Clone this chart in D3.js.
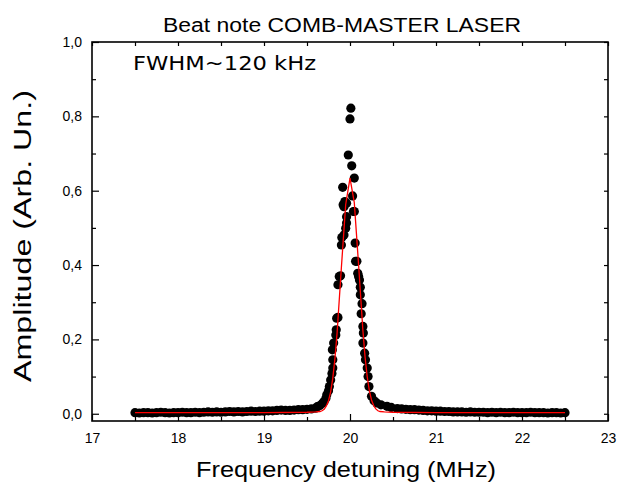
<!DOCTYPE html>
<html>
<head>
<meta charset="utf-8">
<script src="https://cdn.jsdelivr.net/npm/d3@7"></script>
<style>
  html, body { margin: 0; padding: 0; background: #fff; }
  svg { display: block; }
</style>
</head>
<body>
<svg id="chart" width="617" height="485"></svg>
<script>
// ---------------- data ----------------
const titleText = "Beat note COMB-MASTER LASER";
const xLabel = "Frequency detuning (MHz)";
const yLabel = "Amplitude (Arb. Un.)";
const annotation = "FWHM~120 kHz";

const xTicks = [17, 18, 19, 20, 21, 22, 23];
const xMinorTicks = [17.5, 18.5, 19.5, 20.5, 21.5, 22.5];
const yTicks = [0.0, 0.2, 0.4, 0.6, 0.8, 1.0];
const yMinorTicks = [0.1, 0.3, 0.5, 0.7, 0.9];

// measured points (MHz, amplitude)
const freqMHz = [
  17.50, 17.55, 17.60, 17.65, 17.70, 17.75, 17.80, 17.85, 17.90, 17.95,
  18.00, 18.05, 18.10, 18.15, 18.20, 18.25, 18.30, 18.35, 18.40, 18.45,
  18.50, 18.55, 18.60, 18.65, 18.70, 18.75, 18.80, 18.85, 18.90, 18.95,
  19.00, 19.05, 19.10, 19.15, 19.20, 19.25, 19.30, 19.35, 19.40, 19.45,
  19.50, 19.55, 19.60,
  19.62, 19.65, 19.68, 19.70, 19.72, 19.73, 19.75, 19.76, 19.775, 19.79,
  19.80, 19.80, 19.795, 19.81, 19.835, 19.84, 19.845, 19.86, 19.86, 19.875,
  19.89, 19.90, 19.905, 19.93, 19.95, 19.96, 19.96, 19.93, 19.92, 19.96,
  19.915, 19.94, 19.98, 20.00, 20.01, 20.02, 20.03, 20.05, 20.04, 20.05,
  20.06, 20.065, 20.08, 20.09, 20.10, 20.11, 20.12, 20.12, 20.14, 20.13,
  20.15, 20.155, 20.15, 20.17, 20.18, 20.20, 20.21, 20.22, 20.25, 20.28,
  20.31, 20.36, 20.43, 20.48,
  20.55, 20.60, 20.65, 20.70, 20.75, 20.80, 20.85, 20.90, 20.95, 21.00,
  21.05, 21.10, 21.15, 21.20, 21.25, 21.30, 21.35, 21.40, 21.45, 21.50,
  21.55, 21.60, 21.65, 21.70, 21.75, 21.80, 21.85, 21.90, 21.95, 22.00,
  22.05, 22.10, 22.15, 22.20, 22.25, 22.30, 22.35, 22.40, 22.45, 22.50
];
const amplitude = [
  0.003, 0.002, 0.003, 0.003, 0.002, 0.003, 0.004, 0.003, 0.002, 0.003,
  0.003, 0.004, 0.003, 0.003, 0.004, 0.003, 0.004, 0.005, 0.004, 0.005,
  0.004, 0.005, 0.006, 0.005, 0.006, 0.005, 0.006, 0.007, 0.006, 0.007,
  0.007, 0.008, 0.008, 0.009, 0.010, 0.009, 0.009, 0.010, 0.011, 0.011,
  0.012, 0.013, 0.015,
  0.019, 0.022, 0.028, 0.033, 0.042, 0.051, 0.062, 0.073, 0.091, 0.108,
  0.123, 0.145, 0.172, 0.190, 0.212, 0.226, 0.257, 0.259, 0.347, 0.369,
  0.371, 0.454, 0.474, 0.481, 0.499, 0.513, 0.530, 0.557, 0.562, 0.566,
  0.609, 0.571, 0.696, 0.793, 0.822, 0.667, 0.586, 0.634, 0.544, 0.544,
  0.459, 0.410, 0.410, 0.378, 0.369, 0.360, 0.340, 0.320, 0.296, 0.269,
  0.235, 0.217, 0.190, 0.163, 0.145, 0.123, 0.100, 0.073, 0.047, 0.035,
  0.029, 0.024, 0.020, 0.017,
  0.014, 0.013, 0.012, 0.011, 0.011, 0.010, 0.009, 0.008, 0.008, 0.007,
  0.007, 0.006, 0.006, 0.005, 0.005, 0.005, 0.004, 0.005, 0.004, 0.004,
  0.004, 0.003, 0.004, 0.003, 0.004, 0.003, 0.003, 0.004, 0.003, 0.003,
  0.003, 0.004, 0.003, 0.003, 0.003, 0.002, 0.003, 0.003, 0.002, 0.003
];

// fitted curve
const fitFreq = [17.50, 19.00, 19.50, 19.60, 19.65, 19.675, 19.70, 19.725, 19.75, 19.775,
                 19.80, 19.825, 19.85, 19.90, 19.95, 20.00, 20.05, 20.10, 20.15, 20.175,
                 20.20, 20.225, 20.25, 20.275, 20.30, 20.325, 20.35, 20.40, 20.50, 21.00, 22.50];
const fitAmp  = [0.003, 0.003, 0.004, 0.005, 0.006, 0.008, 0.012, 0.021, 0.035, 0.059,
                 0.096, 0.149, 0.218, 0.394, 0.563, 0.634, 0.568, 0.400, 0.224, 0.153,
                 0.100, 0.062, 0.037, 0.022, 0.013, 0.008, 0.006, 0.005, 0.004, 0.003, 0.003];

// ---------------- layout ----------------
const svg = d3.select("#chart");
const plot = { left: 92, right: 608, top: 42, bottom: 421 };

const xScale = d3.scaleLinear().domain([17, 23]).range([plot.left, plot.right]);
const yScale = d3.scaleLinear().domain([-0.0195, 1.0]).range([plot.bottom, plot.top]);

const fmtY = v => d3.format(".1f")(v).replace(".", ",");

// data points
const pts = freqMHz.map((f, i) => [f, amplitude[i]]);
svg.append("g").selectAll("circle").data(pts).join("circle")
  .attr("cx", d => xScale(d[0])).attr("cy", d => yScale(d[1]))
  .attr("r", 4.6).attr("fill", "#000");

// fit line
const fitPts = fitFreq.map((f, i) => [f, fitAmp[i]]);
svg.append("path").datum(fitPts)
  .attr("fill", "none").attr("stroke", "#ff0000").attr("stroke-width", 1.3)
  .attr("d", d3.line().x(d => xScale(d[0])).y(d => yScale(d[1])));

// axes
const axisFont = "'Liberation Sans', Arial, sans-serif";

const gBottom = svg.append("g").attr("transform", `translate(0,${plot.bottom})`)
  .call(d3.axisBottom(xScale).tickValues(xTicks).tickFormat(d3.format("d")).tickSizeInner(-7).tickSizeOuter(0).tickPadding(12));
gBottom.append("g").call(d3.axisBottom(xScale).tickValues(xMinorTicks).tickFormat("").tickSizeInner(-4).tickSizeOuter(0));

const gLeft = svg.append("g").attr("transform", `translate(${plot.left},0)`)
  .call(d3.axisLeft(yScale).tickValues(yTicks).tickFormat(fmtY).tickSizeInner(-7).tickSizeOuter(0).tickPadding(10));
gLeft.append("g").call(d3.axisLeft(yScale).tickValues(yMinorTicks).tickFormat("").tickSizeInner(-4).tickSizeOuter(0));

const gTop = svg.append("g").attr("transform", `translate(0,${plot.top})`)
  .call(d3.axisTop(xScale).tickValues(xTicks.concat(xMinorTicks)).tickFormat("").tickSizeInner(-4).tickSizeOuter(0));
const gRight = svg.append("g").attr("transform", `translate(${plot.right},0)`)
  .call(d3.axisRight(yScale).tickValues(yTicks.concat(yMinorTicks)).tickFormat("").tickSizeInner(-4).tickSizeOuter(0));

[gBottom, gLeft, gTop, gRight].forEach(g => {
  g.selectAll(".domain").remove();
  g.selectAll("line").attr("stroke", "#000").attr("stroke-width", 1.2);
  g.selectAll("text").attr("font-family", axisFont).attr("font-size", 14).attr("fill", "#000");
});

// frame
svg.append("rect")
  .attr("x", plot.left).attr("y", plot.top)
  .attr("width", plot.right - plot.left).attr("height", plot.bottom - plot.top)
  .attr("fill", "none").attr("stroke", "#000").attr("stroke-width", 1.6);

// texts
svg.append("text").attr("x", 342).attr("y", 32)
  .attr("text-anchor", "middle").attr("font-family", axisFont).attr("font-size", 20)
  .attr("textLength", 358).attr("lengthAdjust", "spacingAndGlyphs")
  .text(titleText);

svg.append("text").attr("x", 346).attr("y", 477)
  .attr("text-anchor", "middle").attr("font-family", axisFont).attr("font-size", 22)
  .attr("textLength", 300).attr("lengthAdjust", "spacingAndGlyphs")
  .text(xLabel);

svg.append("text").attr("transform", `translate(31,236) rotate(-90)`)
  .attr("text-anchor", "middle").attr("font-family", axisFont).attr("font-size", 23)
  .attr("textLength", 292).attr("lengthAdjust", "spacingAndGlyphs")
  .text(yLabel);

svg.append("text").attr("x", 133).attr("y", 70)
  .attr("font-family", "'DejaVu Sans', 'Noto Sans', sans-serif").attr("font-size", 20)
  .attr("textLength", 183).attr("lengthAdjust", "spacingAndGlyphs")
  .text(annotation);
</script>
</body>
</html>
